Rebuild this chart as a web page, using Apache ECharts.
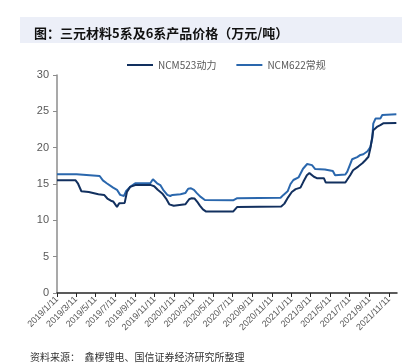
<!DOCTYPE html>
<html>
<head>
<meta charset="utf-8">
<script src="https://cdn.jsdelivr.net/npm/echarts@6/dist/echarts.min.js"></script>
<style>html,body{margin:0;padding:0;background:#fff}#c{width:402px;height:363px}</style>
</head>
<body>
<div id="c"></div>
<script>
const tickLabels = ['2019/1/11','2019/3/11','2019/5/11','2019/7/11','2019/9/11','2019/11/11','2020/1/11','2020/3/11','2020/5/11','2020/7/11','2020/9/11','2020/11/11','2021/1/11','2021/3/11','2021/5/11','2021/7/11','2021/9/11','2021/11/11'];

const ncm523Dates = ['2019-01-11','2019-03-10','2019-03-17','2019-03-22','2019-03-28','2019-04-20','2019-05-20','2019-06-07','2019-06-17','2019-06-28','2019-07-05','2019-07-11','2019-07-17','2019-07-24','2019-08-10','2019-08-17','2019-08-27','2019-09-12','2019-10-31','2019-11-10','2019-11-21','2019-12-05','2019-12-17','2019-12-27','2020-01-01','2020-01-10','2020-01-14','2020-02-15','2020-02-27','2020-03-06','2020-03-15','2020-03-24','2020-04-01','2020-04-10','2020-04-20','2020-07-13','2020-07-26','2020-12-10','2020-12-20','2021-01-01','2021-01-12','2021-01-24','2021-02-08','2021-02-17','2021-02-28','2021-03-08','2021-03-14','2021-03-22','2021-03-31','2021-04-22','2021-04-28','2021-06-28','2021-07-13','2021-07-22','2021-08-07','2021-08-20','2021-08-30','2021-09-08','2021-09-14','2021-09-20','2021-09-23','2021-10-06','2021-10-15','2021-10-24','2021-12-04'];
const ncm523Values = [15.5,15.5,15.1,15.0,14.0,13.9,13.6,13.5,13.0,12.7,12.6,12.4,11.85,12.35,12.4,13.9,14.6,14.85,14.85,14.7,14.2,13.7,13.0,12.2,12.0,12.0,12.2,12.2,12.9,13.05,13.0,12.5,12.0,11.5,11.2,11.2,11.85,11.9,12.3,13.2,13.9,14.3,14.5,15.3,16.2,16.5,16.4,16.0,15.8,15.8,15.2,15.2,16.2,16.9,17.4,17.85,18.3,18.75,19.9,21.5,22.4,22.9,23.1,23.35,23.4];

const ncm622Dates = ['2019-01-11','2019-03-13','2019-03-15','2019-05-24','2019-06-03','2019-06-15','2019-07-05','2019-07-17','2019-07-27','2019-08-08','2019-08-14','2019-08-27','2019-09-12','2019-10-29','2019-11-06','2019-11-10','2019-11-19','2019-11-29','2019-12-08','2019-12-21','2019-12-30','2020-01-06','2020-01-31','2020-02-15','2020-02-24','2020-03-04','2020-03-13','2020-03-22','2020-04-01','2020-04-16','2020-07-13','2020-07-26','2020-12-08','2020-12-17','2020-12-30','2021-01-08','2021-01-17','2021-02-02','2021-02-08','2021-02-16','2021-03-01','2021-03-07','2021-03-16','2021-03-26','2021-04-25','2021-04-30','2021-05-20','2021-05-27','2021-06-28','2021-07-04','2021-07-19','2021-08-04','2021-08-14','2021-08-23','2021-09-05','2021-09-14','2021-09-20','2021-09-23','2021-09-30','2021-10-15','2021-10-21','2021-12-04'];
const ncm622Values = [16.35,16.35,16.1,16.1,15.5,15.1,14.5,14.2,13.5,13.35,14.0,14.6,15.1,15.1,15.65,15.7,15.1,14.85,14.2,13.5,13.35,13.5,13.6,13.75,14.35,14.4,14.2,13.75,13.3,12.8,12.75,13.05,13.1,13.5,14.0,15.0,15.55,15.9,16.1,17.1,17.75,17.85,17.6,17.05,17.0,16.8,16.8,16.2,16.3,16.7,18.4,18.7,19.0,19.1,19.5,20.1,21.3,23.3,24.0,24.0,24.5,24.6];

const seriesNames = ['NCM523动力','NCM622常规'];

const DAY = 86400000;
function toTs(s){ const p = s.split(/[\/-]/).map(Number); return Date.UTC(p[0], p[1]-1, p[2]); }
const tickTs = tickLabels.map(toTs);
const zip = (d, v) => d.map((x, i) => [toTs(x), v[i]]);

const chart = echarts.init(document.getElementById('c'), null, {renderer:'canvas'});
chart.setOption({
  animation: false,
  title: {text:'图：三元材料5系及6系产品价格（万元/吨）', left:29, top:22,
    textStyle:{fontFamily:'Noto Sans CJK SC', fontSize:13, fontWeight:'bold', color:'#111'}},
  legend: {left:122, top:55, itemWidth:26, itemHeight:2, itemGap:20, icon:'rect',
    textStyle:{fontFamily:'Noto Sans CJK SC', fontSize:10, color:'#595959'},
    data: seriesNames},
  grid: {left:57, right:5, top:75, bottom:70, containLabel:false, outerBoundsMode:'none'},
  xAxis: {type:'value', min: toTs('2019-01-11'), max: toTs('2021-12-06'), scale:true,
    axisLine:{show:true, lineStyle:{color:'#262626', width:1.5}},
    axisTick:{show:true, customValues: tickTs, length:4, lineStyle:{color:'#262626'}},
    axisLabel:{customValues: tickTs, rotate:45, fontSize:9, color:'#595959', margin:5,
      fontFamily:'Liberation Sans', showMinLabel:true, showMaxLabel:true,
      formatter: function(v){ const i = tickTs.indexOf(v); return i >= 0 ? tickLabels[i] : ''; }},
    splitLine:{show:false}},
  yAxis: {type:'value', min:0, max:30, interval:5,
    axisLine:{show:true, lineStyle:{color:'#8c8c8c', width:1.5}},
    axisTick:{show:true, inside:false, length:4, lineStyle:{color:'#8c8c8c'}},
    axisLabel:{fontSize:11, color:'#595959', margin:8, fontFamily:'Liberation Sans'},
    splitLine:{show:false}},
  series: [
    {name:seriesNames[0], type:'line', showSymbol:false, data: zip(ncm523Dates, ncm523Values),
      itemStyle:{color:'#12305f'}, lineStyle:{color:'#12305f', width:2}, z:3},
    {name:seriesNames[1], type:'line', showSymbol:false, data: zip(ncm622Dates, ncm622Values),
      itemStyle:{color:'#2a67ad'}, lineStyle:{color:'#2a67ad', width:2}, z:2}
  ],
  graphic: [
    {type:'rect', shape:{x:20, y:17, width:382, height:26}, style:{fill:'#eceff8'}, z:-1},
    {type:'text', left:30, top:352, style:{text:'资料来源：  鑫椤锂电、国信证券经济研究所整理', fill:'#333', font:'10px "Noto Sans CJK SC"'}}
  ]
});
</script>
</body>
</html>
